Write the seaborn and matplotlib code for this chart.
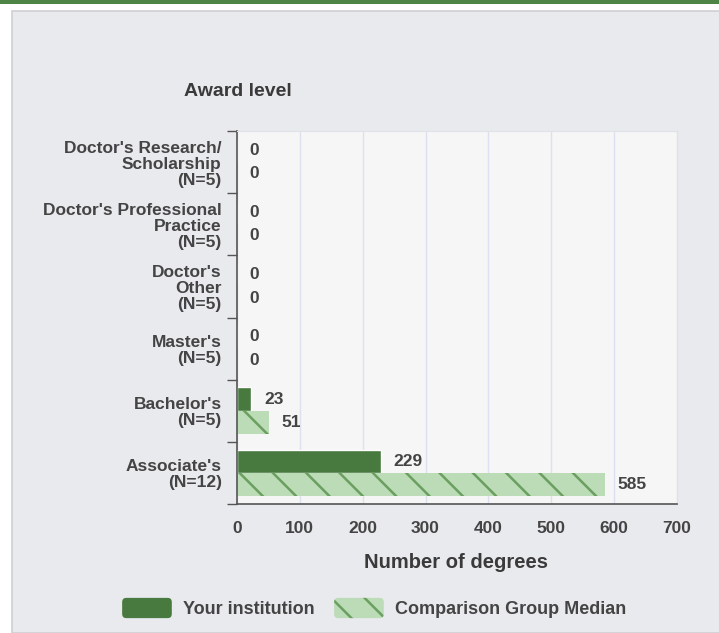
import numpy as np
import pandas as pd
import matplotlib.pyplot as plt
import seaborn as sns
from matplotlib.patches import Rectangle, FancyBboxPatch
from matplotlib.legend_handler import HandlerPatch

# data
award_levels = ["Doctor's Research/\nScholarship\n(N=5)",
                "Doctor's Professional\nPractice\n(N=5)",
                "Doctor's\nOther\n(N=5)",
                "Master's\n(N=5)",
                "Bachelor's\n(N=5)",
                "Associate's\n(N=12)"]
your_inst = [0, 0, 0, 0, 23, 229]
comp_median = [0, 0, 0, 0, 51, 585]
series = ["Your institution", "Comparison Group Median"]

dark_green = '#487a3f'
light_green = '#bcdcb7'
hatch_green = '#6a9f60'
txt = '#444444'

df = pd.DataFrame({'level': award_levels, series[0]: your_inst, series[1]: comp_median})
long_df = df.melt(id_vars='level', var_name='series', value_name='degrees')

sns.set_style('white')
plt.rcParams['font.family'] = ['Liberation Sans', 'DejaVu Sans']
plt.rcParams['hatch.linewidth'] = 1.8

fig = plt.figure(figsize=(7.19, 6.33), dpi=100, facecolor='white')
# page decorations: green rule and grey panel
fig.patches.append(Rectangle((0, 1 - 4 / 633), 1, 4 / 633, transform=fig.transFigure,
                             facecolor='#4e8547', edgecolor='none', zorder=-10))
fig.patches.append(Rectangle((12 / 719, 0), 1, 1 - 11 / 633, transform=fig.transFigure,
                             facecolor='#e9eaee', edgecolor='#cfd0d3', linewidth=1.2, zorder=-10))

ax = fig.add_axes([237 / 719, 1 - 504 / 633, 440 / 719, 373 / 633])
ax.set_facecolor('#f6f6f6')

sns.barplot(data=long_df, y='level', x='degrees', hue='series', orient='h',
            palette=[dark_green, light_green], width=0.75, ax=ax, legend=False,
            saturation=1)

# hatch the comparison bars
for bar in ax.containers[1]:
    bar.set_hatch('\\')
    bar.set_edgecolor(hatch_green)
    bar.set_linewidth(0)

for cont in ax.containers:
    ax.bar_label(cont, padding=9, fontsize=12.5, fontweight='bold', color=txt)

ax.set_xlim(0, 700)
ax.set_xticks(np.arange(0, 701, 100))
ax.set_ylim(5.5, -0.5)
ax.set_yticks(np.arange(len(award_levels)))
ax.set_yticklabels(award_levels, linespacing=1.08, fontweight='bold')
ax.set_xticklabels(ax.get_xticklabels(), fontweight='bold')
ax.set_yticks(np.arange(-0.5, len(award_levels)), minor=True)
ax.tick_params(axis='y', which='major', left=False, length=0, pad=11, labelsize=12.5, labelcolor=txt)
ax.tick_params(axis='y', which='minor', left=True, length=7, color='#555555', width=1)
ax.tick_params(axis='x', length=0, pad=12, labelsize=12.5, labelcolor=txt)
ax.grid(axis='x', color='#dde0ee', linewidth=1)
ax.set_axisbelow(True)
ax.set_xlabel('')
ax.set_ylabel('')
for s in ['top', 'right']:
    ax.spines[s].set_color('#e0e2ea')
for s in ['left', 'bottom']:
    ax.spines[s].set_color('#555555')
    ax.spines[s].set_linewidth(1.2)

fig.text(238 / 719, 1 - 92 / 633, 'Award level', ha='center', va='center',
         fontsize=14, fontweight='bold', color='#3a3a3a')
fig.text(456 / 719, 1 - 563 / 633, 'Number of degrees', ha='center', va='center',
         fontsize=14.5, fontweight='bold', color='#3a3a3a')


def rounded(legend, orig_handle, xdescent, ydescent, width, height, fontsize):
    return FancyBboxPatch((-xdescent, -ydescent), width, height,
                          boxstyle='round,pad=0,rounding_size=3')


h1 = Rectangle((0, 0), 1, 1, facecolor=dark_green, edgecolor='none')
h2 = Rectangle((0, 0), 1, 1, facecolor=light_green, edgecolor=hatch_green, hatch='\\', linewidth=0)
leg = fig.legend([h1, h2], series, loc='center', bbox_to_anchor=(374 / 719, 1 - 608 / 633),
                 ncol=2, frameon=False, handlelength=2.75, handleheight=1.35,
                 columnspacing=1.1, handletextpad=0.6, labelcolor=txt,
                 prop={'weight': 'bold', 'size': 13},
                 handler_map={Rectangle: HandlerPatch(patch_func=rounded)})

fig.savefig('out.png', dpi=100, facecolor='white')
